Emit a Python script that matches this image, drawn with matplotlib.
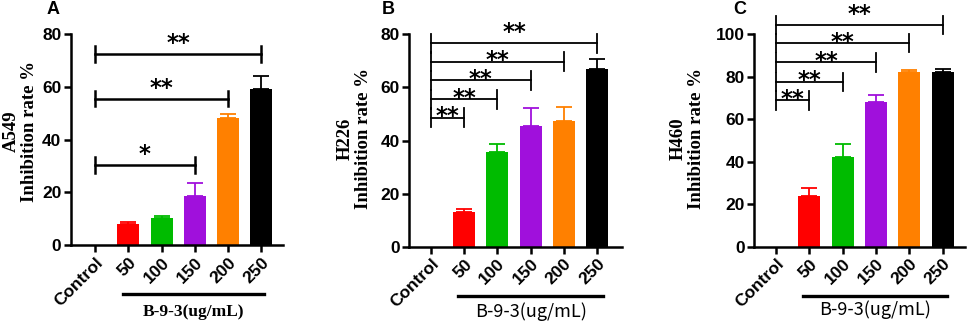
import numpy as np
import matplotlib
matplotlib.use("Agg")
import matplotlib.pyplot as plt
import matplotlib.transforms as mtransforms

plt.rcParams['font.family'] = ['Liberation Sans', 'DejaVu Sans']

categories = ["Control", "50", "100", "150", "200", "250"]
colors = ["#ff0000", "#00bb00", "#a010dc", "#ff8000", "#000000"]

# mean and upper error (SD) for each dose, control is 0
a549_mean = [0, 8.0, 10.1, 18.6, 48.3, 59.4]
a549_err = [0, 0.9, 1.0, 5.1, 1.5, 4.6]
h226_mean = [0, 13.1, 35.5, 45.6, 47.3, 66.9]
h226_err = [0, 1.2, 3.1, 6.5, 5.4, 3.7]
h460_mean = [0, 23.7, 42.2, 68.3, 82.1, 82.4]
h460_err = [0, 3.8, 6.0, 3.1, 1.2, 1.3]

# significance brackets: (target index, level, label)
a549_sig = [(3, 30.4, "*"), (4, 55.5, "**"), (5, 72.5, "**")]
h226_sig = [(1, 48.6, "**"), (2, 55.5, "**"), (3, 62.7, "**"), (4, 69.7, "**"), (5, 76.6, "**")]
h460_sig = [(1, 68.9, "**"), (2, 77.7, "**"), (3, 86.8, "**"), (4, 95.8, "**"), (5, 104.4, "**")]

fig = plt.figure(figsize=(9.69, 3.21), dpi=100)

panels = [
    dict(rect=[0.0733, 0.2368, 0.2188, 0.6563], xlim=(-0.72, 5.65), ylim=80, yticks=[0, 20, 40, 60, 80],
         mean=a549_mean, err=a549_err, sig=a549_sig, name="A549", letter="A", lx=53,
         labx=-0.156, laby=0.54, tick=2.9, lw=1.8, star_off=2.6, top_off=2.6,
         line=(0.84, 5.07, -0.233), txt_y=-0.317,
         txt_font=dict(family="Liberation Serif", weight="bold", fontsize=12.5)),
    dict(rect=[0.4224, 0.2315, 0.2192, 0.6615], xlim=(-0.65, 5.74), ylim=80, yticks=[0, 20, 40, 60, 80],
         mean=h226_mean, err=h226_err, sig=h226_sig, name="H226", letter="B", lx=388,
         labx=-0.176, laby=0.51, tick=3.5, lw=1.3, star_off=-3.8, top_off=3.0,
         line=(0.82, 5.18, -0.231), txt_y=-0.306,
         txt_font=dict(family=["Noto Sans CJK SC", "DejaVu Sans"], weight="normal", fontsize=13)),
    dict(rect=[0.7784, 0.2315, 0.2175, 0.6615], xlim=(-0.65, 5.67), ylim=100, yticks=[0, 20, 40, 60, 80, 100],
         mean=h460_mean, err=h460_err, sig=h460_sig, name="H460", letter="C", lx=740,
         labx=-0.234, laby=0.51, tick=4.3, lw=1.3, star_off=-3.8, top_off=2.6,
         line=(0.82, 5.13, -0.233), txt_y=-0.298,
         txt_font=dict(family=["Noto Sans CJK SC", "DejaVu Sans"], weight="normal", fontsize=13)),
]

for p in panels:
    ax = fig.add_axes(p["rect"])
    x = np.arange(len(categories))
    mean = p["mean"]
    err = p["err"]
    for i in range(1, len(categories)):
        ax.bar(x[i], mean[i], width=0.66, color=colors[i - 1], zorder=2)
        ax.errorbar(x[i], mean[i], yerr=[[0], [err[i]]], fmt="none", ecolor=colors[i - 1],
                    elinewidth=1.3, capsize=5.5, capthick=1.3, zorder=1)

    for k, (idx, level, lab) in enumerate(p["sig"]):
        t = p["tick"]
        off = p["top_off"] if k == len(p["sig"]) - 1 else p["star_off"]
        ax.plot([0, idx], [level, level], color="black", lw=p["lw"], clip_on=False, zorder=3)
        ax.plot([0, 0], [level - t, level + t], color="black", lw=p["lw"], clip_on=False, zorder=3)
        ax.plot([idx, idx], [level - t, level + t], color="black", lw=p["lw"], clip_on=False, zorder=3)
        ax.annotate(lab, xy=(idx / 2, level), xytext=(0, off), textcoords="offset points",
                    ha="center", va="baseline", fontsize=16.5, fontweight="bold",
                    family="DejaVu Sans", annotation_clip=False)

    ax.set_xlim(*p["xlim"])
    ax.set_ylim(0, p["ylim"])
    ax.set_yticks(p["yticks"])
    ax.set_xticks(x)
    ax.set_xticklabels(categories, rotation=45, ha="right", rotation_mode="anchor")
    for lab in ax.get_xticklabels() + ax.get_yticklabels():
        lab.set_fontsize(12.5)
        lab.set_fontweight("bold")
    ax.spines["top"].set_visible(False)
    ax.spines["right"].set_visible(False)
    ax.spines["left"].set_linewidth(1.8)
    ax.spines["bottom"].set_linewidth(1.8)
    ax.tick_params(axis="both", width=1.8, length=5, pad=2)

    ax.set_ylabel(p["name"] + "\nInhibition rate %", family="Liberation Serif", fontweight="bold",
                  fontsize=13.5, linespacing=1.1)
    ax.yaxis.set_label_coords(p["labx"], p["laby"])

    trans = mtransforms.blended_transform_factory(ax.transData, ax.transAxes)
    x0, x1, ly = p["line"]
    ax.plot([x0, x1], [ly, ly], color="black", lw=2.4, transform=trans, clip_on=False)
    ax.text((x0 + x1) / 2, p["txt_y"], "B-9-3(ug/mL)", transform=trans, ha="center", va="center",
            **p["txt_font"])

    fig.text(p["lx"] / 969, 1 - 9.5 / 321, p["letter"], ha="center", va="center",
             fontsize=13, fontweight="bold")

fig.savefig("out.png", dpi=100)
